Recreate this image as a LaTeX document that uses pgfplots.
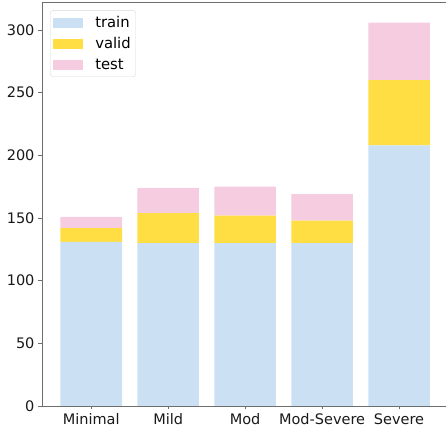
\documentclass[border=0pt]{standalone}
\usepackage{pgfplots}
\pgfplotsset{compat=1.18}
\usepackage{fontspec}
\setmainfont{DejaVu Sans}
\definecolor{trainc}{RGB}{204,224,244}
\definecolor{validc}{RGB}{255,222,68}
\definecolor{testc}{RGB}{245,204,224}
\definecolor{spine}{RGB}{110,110,110}
\begin{document}
\begin{tikzpicture}
\begin{axis}[
  name=ax,
  scale only axis,
  width=404pt, height=403.5pt,
  xmin=-0.64, xmax=4.61,
  ymin=0, ymax=322,
  ybar stacked,
  bar width=0.8,
  xtick={0,1,2,3,4},
  xticklabels={Minimal,Mild,Mod,Mod-Severe,Severe},
  ytick={0,50,100,150,200,250,300},
  tick align=outside,
  major tick length=3.5pt,
  tick style={spine, line width=0.8pt},
  x tick style={draw=spine},
  axis line style={draw=none},
  xtick pos=bottom, ytick pos=left,
  /pgf/number format/assume math mode=true,
  tick label style={font=\fontsize{14.5}{17}\selectfont, text=black!90},
  yticklabel style={xshift=-0.5pt},
  xticklabel style={yshift=-0.5pt},
  legend style={at={(0.02,0.981)}, anchor=north west, draw=black!15, rounded corners=3pt,
    font=\fontsize{14.8}{17}\selectfont, row sep=4.5pt, inner xsep=3pt, inner ysep=4pt, fill=white},
  legend cell align=left,
  legend image code/.code={\fill[#1, sharp corners] (0pt,-5pt) rectangle (30pt,5pt); \path (40pt,0pt);},
  clip=false,
]
\addplot[fill=trainc, draw=none] coordinates {(0,131) (1,130) (2,130) (3,130) (4,208)};
\addplot[fill=validc, draw=none] coordinates {(0,11) (1,24) (2,22) (3,18) (4,52)};
\addplot[fill=testc, draw=none] coordinates {(0,9) (1,20) (2,23) (3,21) (4,46)};
\legend{train,valid,test}
\draw[spine, line width=0.8pt] (rel axis cs:1,1) -- (rel axis cs:0,1) -- (rel axis cs:0,0) -- (rel axis cs:1,0);
\end{axis}
\pgfresetboundingbox
\path ([shift={(-42pt,-21pt)}]ax.south west) rectangle ([shift={(0pt,2.5pt)}]ax.north east);
\end{tikzpicture}
\end{document}
